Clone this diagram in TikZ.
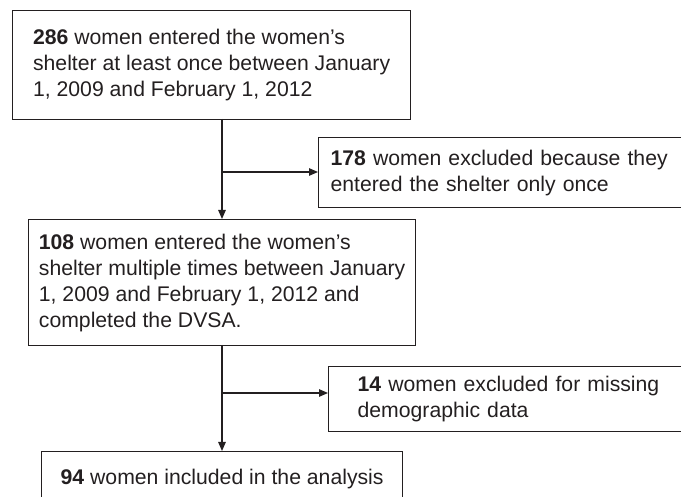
\documentclass[tikz,border=0pt]{standalone}
\usepackage{fontspec}
\setmainfont{Liberation Sans}
\usetikzlibrary{arrows.meta}
\definecolor{ink}{HTML}{231F20}
\begin{document}
\hyphenpenalty=10000
\exhyphenpenalty=10000
\begin{tikzpicture}[x=1pt,y=-1pt,
  box/.style={draw=ink, text=ink, line width=1.3pt, anchor=north west, align=left,
    font=\fontsize{21.2}{26}\selectfont, inner ysep=0pt, inner xsep=0pt},
  conn/.style={draw=ink, line width=1.2pt},
  arr/.style={conn, -{Triangle[length=9pt,width=7.5pt]}}]
\useasboundingbox (0,0) rectangle (681,497);
\clip (0,0) rectangle (681,497);
\node[box, minimum width=398pt, minimum height=109pt] (b1) at (12,10)
  {\textbf{286} women entered the women’s\\shelter at least once between January\\1, 2009 and February 1, 2012};
\node[box, inner xsep=12pt, text width=380pt, minimum height=70pt] (b2) at (318,137)
  {\textbf{178} women excluded because they\\entered the shelter only once};
\node[box, minimum width=387pt, minimum height=126pt] (b3) at (28,219)
  {\textbf{108} women entered the women’s\\shelter multiple times between January\\1, 2009 and February 1, 2012 and\\completed the DVSA.};
\node[box, inner xsep=29pt, text width=350pt, minimum height=65pt] (b4) at (328,366)
  {\textbf{14} women excluded for missing\\demographic data};
\node[box, minimum width=361pt, minimum height=54pt] (b5) at (41,451)
  {\textbf{94} women included in the analysis};
\coordinate (t1) at (222,119);
\coordinate (j1) at (222,172);
\coordinate (t2) at (222,345);
\coordinate (j2) at (222,393);
\draw[arr] (t1) -- (t1 |- b3.north);
\draw[arr] (j1) -- (b2.west |- j1);
\draw[arr] (t2) -- (t2 |- b5.north);
\draw[arr] (j2) -- (b4.west |- j2);
\end{tikzpicture}
\end{document}
